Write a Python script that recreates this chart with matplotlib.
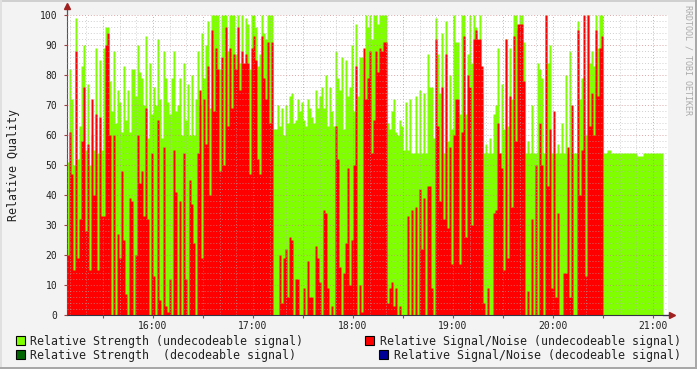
import numpy as np
import matplotlib
matplotlib.use("Agg")
from matplotlib import pyplot as plt
from matplotlib.patches import Rectangle
from matplotlib.ticker import MultipleLocator, FuncFormatter

# one sample every 1.2 min, first sample at 15:08:24
start_hour = 15 + 8.4 / 60
step_hour = 1.2 / 60

# Relative Strength (undecodeable signal)
strength_undec = [
    51, 82, 72, 50, 99, 52, 63, 83, 90, 55,
    77, 50, 60, 55, 89, 54, 85, 55, 89, 96,
    96, 78, 68, 88, 64, 75, 71, 61, 83, 65,
    75, 61, 82, 82, 73, 90, 81, 79, 70, 93,
    59, 84, 67, 76, 70, 92, 72, 59, 88, 79,
    71, 67, 79, 88, 68, 70, 79, 60, 84, 65,
    77, 60, 80, 60, 72, 88, 70, 94, 79, 90,
    98, 69, 100, 100, 100, 100, 82, 100, 100, 100,
    88, 100, 100, 100, 87, 100, 84,
    100, 81, 99, 97, 82, 100, 100, 96, 83, 87,
    100, 94, 92, 100, 100, 100, 62, 62, 70, 63,
    69, 60, 70, 64, 73, 74, 64, 65, 72, 68,
    71, 65, 63, 72, 69, 66, 64, 75, 69, 73,
    76, 69, 80, 63, 76, 68, 63, 88, 79, 75,
    86, 62, 85, 73, 76, 90, 68, 97, 73, 86,
    86, 72, 100, 96, 100, 92, 100, 100, 97, 100,
    100, 100, 100, 64, 62, 68, 72, 61, 60, 65,
    63, 55, 71, 55, 72, 54, 54, 73, 54, 75,
    54, 74, 54, 87, 76, 76, 59, 99, 87, 74,
    94, 54, 98, 58, 80, 62, 100, 91, 91, 67,
    100, 100, 67, 87, 100, 84, 100, 96, 84, 100,
    74, 54, 57, 54, 59, 54, 67, 70, 89, 54,
    77, 62, 92, 63, 89, 72, 100, 100, 95, 100,
    100, 91, 54, 58, 54, 70, 54, 54, 84, 82,
    79, 54, 100, 84, 90, 54, 54, 54, 57, 54,
    64, 54, 80, 54, 88, 54, 54, 54, 98, 72,
    79, 79, 60, 100, 84, 88, 83, 100, 89, 100,
    100, 54, 54, 55, 55, 54, 54, 54, 54, 54,
    54, 54, 54, 54, 54, 54, 54, 54, 53, 53,
    53, 54, 54, 54, 54, 54, 54, 54, 54, 54,
    54,
]

# Relative Signal/Noise (undecodeable signal)
snr_undec = [
    20, 61, 47, 15, 88, 19, 32, 58, 76, 28,
    57, 15, 72, 40, 67, 15, 66, 33, 33, 90,
    94, 60, 0, 60, 0, 27, 19, 48, 25, 7,
    0, 39, 38, 0, 20, 60, 44, 48, 33, 69,
    32, 0, 54, 13, 0, 65, 5, 0, 56, 3,
    1, 12, 0, 55, 41, 0, 38, 0, 54, 12,
    0, 45, 37, 24, 0, 54, 75, 19, 72, 57,
    83, 40, 95, 68, 89, 82, 48, 86, 50, 96,
    63, 89, 69, 87, 82, 96, 75,
    88, 84, 87, 84, 47, 89, 93, 85, 52, 47,
    93, 79, 72, 91, 64, 91, 0, 0, 0, 20,
    4, 19, 22, 6, 26, 25, 0, 12, 12, 0,
    0, 9, 0, 18, 6, 6, 0, 23, 19, 11,
    0, 35, 34, 9, 0, 3, 0, 63, 52, 16,
    0, 14, 24, 49, 10, 25, 50, 83, 0, 10,
    1, 89, 72, 79, 88, 54, 65, 88, 81, 89,
    88, 91, 91, 4, 9, 11, 3, 9, 0, 3,
    0, 0, 0, 33, 0, 35, 0, 36, 0, 42,
    22, 39, 0, 43, 43, 9, 0, 92, 63, 38,
    76, 32, 87, 29, 56, 17, 60, 72, 72, 17,
    61, 93, 26, 80, 76, 30, 92, 95, 92, 92,
    83, 4, 0, 9, 0, 0, 34, 35, 64, 54,
    49, 15, 92, 19, 73, 36, 93, 58, 97, 97,
    97, 78, 0, 8, 0, 32, 0, 50, 0, 64,
    50, 0, 100, 43, 62, 9, 68, 6, 34, 0,
    0, 14, 14, 56, 6, 70, 0, 0, 95, 40,
    55, 100, 13, 100, 63, 74, 60, 95, 73, 89,
    93, 0, 0, 0, 0, 0, 0, 0, 0, 0,
    0, 0, 0, 0, 0, 0, 0, 0, 0, 0,
    0, 0, 0, 0, 0, 0, 0, 0, 0, 0,
    0,
]

legend_labels = [
    "Relative Strength (undecodeable signal)",
    "Relative Strength  (decodeable signal)",
    "Relative Signal/Noise (undecodeable signal)",
    "Relative Signal/Noise (decodeable signal)",
]
legend_colors = ["#80FF00", "#006600", "#FF0000", "#000099"]

mono = "DejaVu Sans Mono"
W, H = 697, 369

fig = plt.figure(figsize=(W / 100, H / 100), dpi=100, facecolor="#F3F3F3")
ax = fig.add_axes([67 / W, 54 / H, 601 / W, 300 / H])
ax.set_facecolor("white")

t = start_hour + step_hour * np.arange(len(strength_undec) + 1)
g = np.append(strength_undec, strength_undec[-1])
r = np.append(snr_undec, snr_undec[-1])
ax.fill_between(t, 0, g, step="post", color=legend_colors[0], linewidth=0, zorder=1)
ax.fill_between(t, 0, r, step="post", color=legend_colors[2], linewidth=0, zorder=1.1)

ax.set_xlim(start_hour, start_hour + 6.01)
ax.set_ylim(0, 100)

ax.xaxis.set_major_locator(MultipleLocator(0.5))
ax.xaxis.set_minor_locator(MultipleLocator(1 / 6))
ax.yaxis.set_major_locator(MultipleLocator(10))
ax.yaxis.set_minor_locator(MultipleLocator(2))
ax.xaxis.set_major_formatter(FuncFormatter(
    lambda v, p: f"{int(round(v))}:00" if abs(v - round(v)) < 1e-6 else ""))

ax.set_axisbelow(False)
ax.grid(which="minor", color="#B0B0B0", alpha=0.6, linestyle=(0, (1, 2)), linewidth=0.7)
ax.grid(which="major", color="#D08080", alpha=0.7, linestyle=(0, (1, 2)), linewidth=0.7)

ax.tick_params(which="major", length=2, width=0.8, color="#A04040",
               labelsize=7, labelcolor="#222222", pad=2)
ax.tick_params(axis="y", which="major", pad=5)
ax.tick_params(which="minor", length=0)
for lab in ax.get_xticklabels() + ax.get_yticklabels():
    lab.set_family(mono)

for side in ["top", "right"]:
    ax.spines[side].set_visible(False)
ax.spines["left"].set_color("#555555")
ax.spines["bottom"].set_color("#333344")

# axis arrows
ax.plot([start_hour, start_hour], [100, 102.5], color="#555555", lw=0.9, clip_on=False)
ax.plot([start_hour], [103], marker="^", color="#A02020", markersize=4, clip_on=False)
ax.plot([t[-1], start_hour + 6.03], [0, 0], color="#333344", lw=0.9, clip_on=False)
ax.plot([start_hour + 6.05], [0], marker=">", color="#A02020", markersize=4, clip_on=False)

fig.text(14 / W, 1 - 165 / H, "Relative Quality", rotation=90, ha="center", va="center",
         family=mono, fontsize=8.4, color="#222222")
fig.text(688 / W, 1 - 60 / H, "RRDTOOL / TOBI OETIKER", rotation=-90, ha="center",
         va="center", family=mono, fontsize=6, color="#AAAAAA")

# legend
sq = [(16, 336), (16, 350), (365, 336), (379, 350)]
tx = [(30, 341), (30, 355), (380, 341), (394, 355)]
for (sx, sy), (lx, ly), lab, col in zip(sq, tx, legend_labels, legend_colors):
    fig.patches.append(Rectangle((sx / W, 1 - (sy + 9) / H), 9 / W, 9 / H,
                                 transform=fig.transFigure, facecolor=col,
                                 edgecolor="black", linewidth=0.8))
    fig.text(lx / W, 1 - ly / H, lab, ha="left", va="center", family=mono,
             fontsize=8.35, color="#222222")

# 3d frame
fig.patches.append(Rectangle((0, 1 - 2 / H), 1, 2 / H, transform=fig.transFigure,
                             facecolor="#D0D0D0", linewidth=0))
fig.patches.append(Rectangle((0, 0), 2 / W, 1, transform=fig.transFigure,
                             facecolor="#E0E0E0", linewidth=0))
fig.patches.append(Rectangle((0, 0), 1, 2 / H, transform=fig.transFigure,
                             facecolor="#A8A8A8", linewidth=0))
fig.patches.append(Rectangle((1 - 2 / W, 0), 2 / W, 1, transform=fig.transFigure,
                             facecolor="#A8A8A8", linewidth=0))

fig.savefig("out.png", dpi=100, facecolor=fig.get_facecolor())
